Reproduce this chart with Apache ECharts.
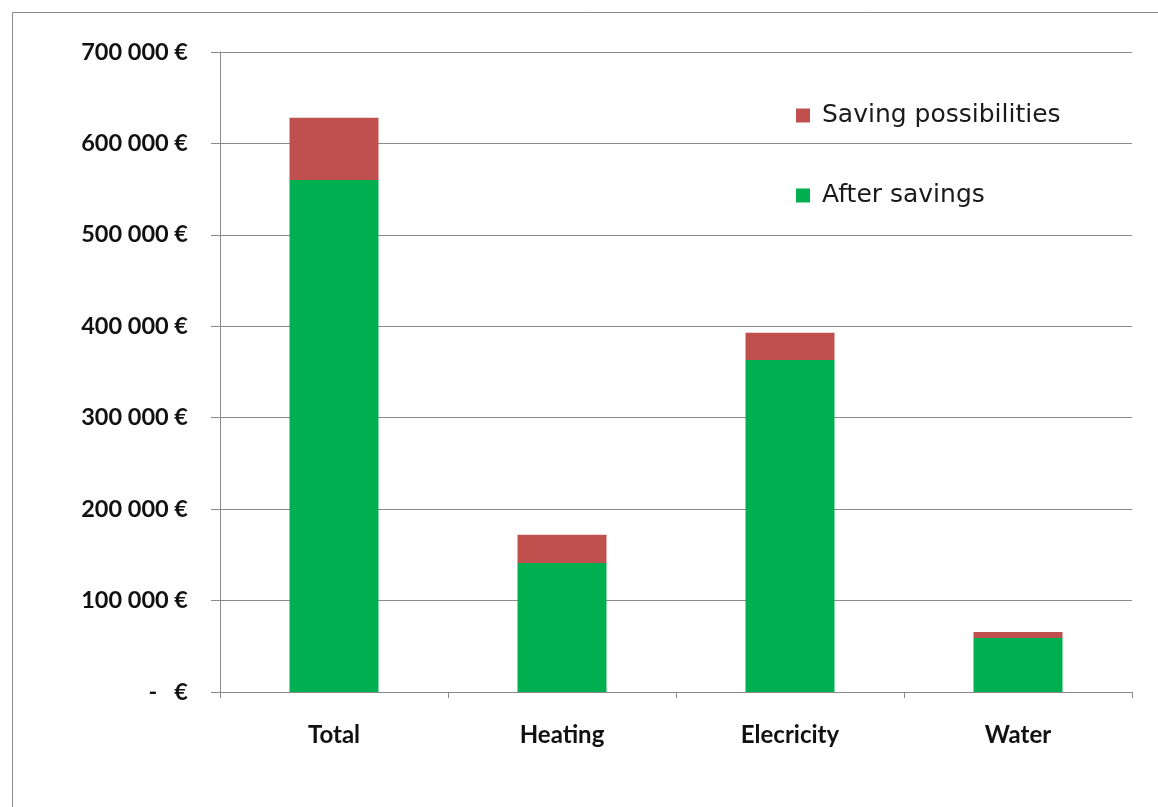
<!DOCTYPE html>
<html>
<head>
<meta charset="utf-8">
<script src="https://cdn.jsdelivr.net/npm/echarts@6/dist/echarts.min.js"></script>
<style>
  html, body { margin: 0; padding: 0; background: #fff; }
  #chart { width: 1158px; height: 807px; }
</style>
</head>
<body>
<div id="chart"></div>
<script>
const categories = ['Total', 'Heating', 'Elecricity', 'Water'];
const afterSavings = [560000, 141000, 363000, 59000];
const savingPossibilities = [68000, 31000, 30000, 6500];
const seriesNames = ['Saving possibilities', 'After savings'];

function euro(v) {
  if (v === 0) return '-   €';
  return String(v).replace(/\B(?=(\d{3})+(?!\d))/g, ' ') + ' €';
}

const chart = echarts.init(document.getElementById('chart'), null, { renderer: 'canvas' });
const axisColor = '#8a8a8a';
const font = 'Lato, "Open Sans", sans-serif';

chart.setOption({
  animation: false,
  backgroundColor: '#ffffff',
  grid: { left: 220, right: 26, top: 52, bottom: 115 },
  legend: {
    orient: 'vertical',
    left: 791,
    top: 98,
    itemWidth: 14,
    itemHeight: 14,
    itemGap: 55,
    icon: 'rect',
    data: seriesNames,
    textStyle: { fontFamily: '"DejaVu Sans", sans-serif', fontSize: 25, color: '#1a1a1a', padding: [0, 0, 0, 7] }
  },
  xAxis: {
    type: 'category',
    data: categories,
    axisLine: { lineStyle: { color: axisColor, width: 1 } },
    axisTick: { show: true, length: 6, lineStyle: { color: axisColor } },
    axisLabel: { margin: 31, fontFamily: font, fontSize: 24, fontWeight: 'bold', color: '#111' }
  },
  yAxis: {
    type: 'value',
    min: 0,
    max: 700000,
    interval: 100000,
    axisLine: { show: true, lineStyle: { color: axisColor, width: 1 } },
    axisTick: { show: true, length: 9, lineStyle: { color: axisColor } },
    splitLine: { show: true, lineStyle: { color: axisColor, width: 1 } },
    axisLabel: { margin: 32, fontFamily: font, fontSize: 23.5, fontWeight: 'bold', color: '#111', formatter: euro }
  },
  series: [
    {
      name: 'After savings',
      type: 'bar',
      stack: 'cost',
      barWidth: 89,
      data: afterSavings,
      itemStyle: { color: '#00B050' }
    },
    {
      name: 'Saving possibilities',
      type: 'bar',
      stack: 'cost',
      barWidth: 89,
      data: savingPossibilities,
      itemStyle: { color: '#C0504D' }
    }
  ],
  graphic: [
    { type: 'line', shape: { x1: 12.5, y1: 12.5, x2: 1158, y2: 12.5 }, style: { stroke: '#8a8a8a', lineWidth: 1 } },
    { type: 'line', shape: { x1: 12.5, y1: 12.5, x2: 12.5, y2: 807 }, style: { stroke: '#8a8a8a', lineWidth: 1 } }
  ]
});
</script>
</body>
</html>
